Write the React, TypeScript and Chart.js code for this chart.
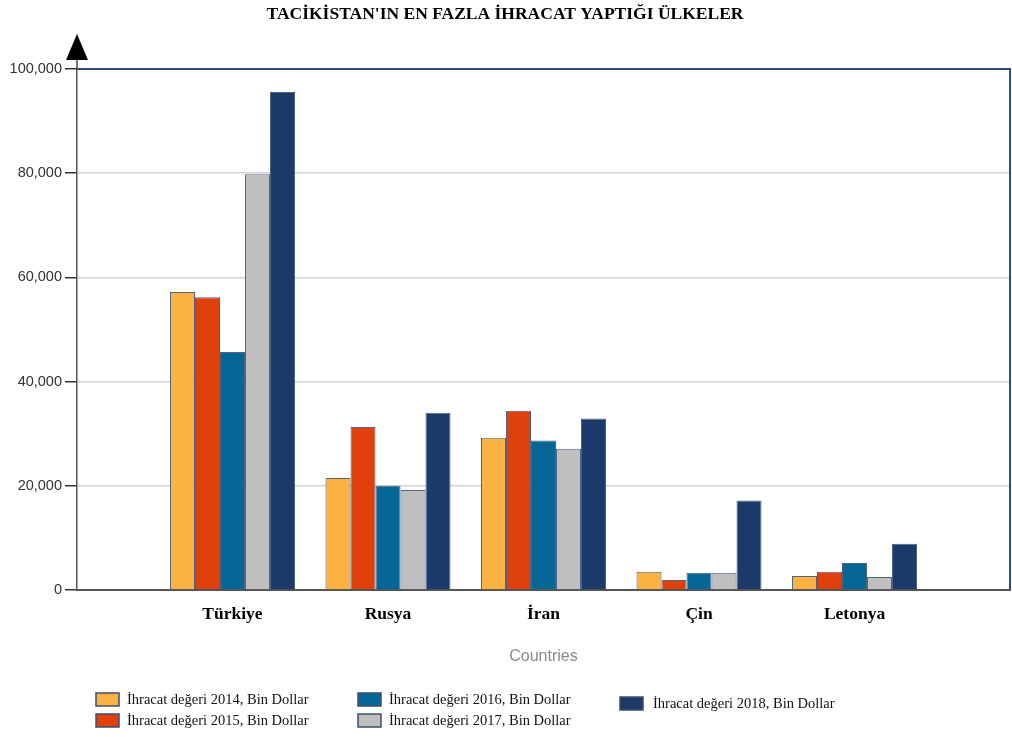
import React, { useEffect, useRef } from "react";
import { Chart, registerables } from "chart.js";

Chart.register(...registerables);

const chartTitle = "TACİKİSTAN'IN EN FAZLA İHRACAT YAPTIĞI ÜLKELER";
const countries = ["Türkiye", "Rusya", "İran", "Çin", "Letonya"];
const seriesLabels = [
  "İhracat değeri 2014, Bin Dollar",
  "İhracat değeri 2015, Bin Dollar",
  "İhracat değeri 2016, Bin Dollar",
  "İhracat değeri 2017, Bin Dollar",
  "İhracat değeri 2018, Bin Dollar",
];
const values2014 = [57200, 21500, 29200, 3500, 2700];
const values2015 = [56200, 31300, 34400, 1900, 3500];
const values2016 = [45700, 20000, 28700, 3300, 5200];
const values2017 = [79800, 19200, 27100, 3300, 2500];
const values2018 = [95600, 34000, 32900, 17200, 8900];
const seriesColors = ["#FBB242", "#E0400C", "#066695", "#BFBFBF", "#1B3A69"];
const yTicks = [0, 20000, 40000, 60000, 80000, 100000];

const SERIF = "'Liberation Serif', 'Times New Roman', serif";
const SANS = "'Liberation Sans', Arial, sans-serif";

const pad = (arr: number[]) => [null, ...arr, null];

const decorPlugin = {
  id: "decor",
  afterDraw(chart: any) {
    const ctx = chart.ctx;
    const { left, right, top, bottom } = chart.chartArea;
    ctx.save();
    // frame top & right
    ctx.strokeStyle = "#2E4C7C";
    ctx.lineWidth = 2;
    ctx.beginPath();
    ctx.moveTo(left, top);
    ctx.lineTo(right, top);
    ctx.lineTo(right, bottom);
    ctx.stroke();
    // axis arrow
    ctx.strokeStyle = "#444";
    ctx.lineWidth = 1.5;
    ctx.beginPath();
    ctx.moveTo(left, top);
    ctx.lineTo(left, top - 10);
    ctx.stroke();
    ctx.fillStyle = "#000";
    ctx.beginPath();
    ctx.moveTo(left - 11, top - 9);
    ctx.lineTo(left + 11, top - 9);
    ctx.lineTo(left, top - 35);
    ctx.closePath();
    ctx.fill();

    // legend
    const cols = [96, 358, 620];
    const rowsY = [693, 714];
    ctx.font = `14.5px ${SERIF}`;
    ctx.textBaseline = "middle";
    ctx.textAlign = "left";
    chart.data.datasets.forEach((ds: any, i: number) => {
      const col = Math.floor(i / 2);
      let y = rowsY[i % 2];
      if (i === 4) y = 697;
      const x = cols[col];
      ctx.fillStyle = ds.backgroundColor;
      ctx.fillRect(x, y, 23, 13);
      ctx.strokeStyle = "#3D4F6E";
      ctx.lineWidth = 1.5;
      ctx.strokeRect(x, y, 23, 13);
      ctx.fillStyle = "#111";
      ctx.fillText(ds.label, x + (i === 4 ? 33 : 31), y + 7);
    });
    ctx.restore();
  },
};

export default function App() {
  const canvasRef = useRef<HTMLCanvasElement | null>(null);

  useEffect(() => {
    if (!canvasRef.current) return;
    const allSeries = [values2014, values2015, values2016, values2017, values2018];
    const chart = new Chart(canvasRef.current, {
      type: "bar",
      data: {
        labels: ["", ...countries, ""],
        datasets: allSeries.map((vals, i) => ({
          label: seriesLabels[i],
          data: pad(vals),
          backgroundColor: seriesColors[i],
          borderColor: "rgba(60,82,118,0.9)",
          borderWidth: 1,
          categoryPercentage: 0.804,
          barPercentage: 1,
        })),
      },
      options: {
        animation: false,
        responsive: true,
        maintainAspectRatio: false,
        layout: { padding: { left: 0, right: 2, top: 0, bottom: 67 } },
        plugins: {
          legend: { display: false },
          tooltip: { enabled: false },
          title: {
            display: true,
            text: chartTitle,
            color: "#000",
            font: { family: SERIF, size: 17.5, weight: "bold" },
            padding: { top: 3.5, bottom: 44.5 },
          },
        },
        scales: {
          x: {
            offset: false,
            grid: { display: false, drawTicks: false },
            border: { display: true, color: "#555", width: 2 },
            ticks: {
              autoSkip: false,
              maxRotation: 0,
              padding: 14,
              color: "#000",
              font: { family: SERIF, size: 17.5, weight: "bold" },
            },
            title: {
              display: true,
              text: "Countries",
              color: "#8A8A8A",
              font: { family: SANS, size: 16 },
              padding: { top: 0, bottom: 4 },
            },
            afterFit(scale: any) {
              scale.height = 80;
              scale.paddingLeft = 0;
              scale.paddingRight = 0;
            },
          },
          y: {
            min: 0,
            max: 100000,
            afterBuildTicks(scale: any) {
              scale.ticks = yTicks.map((v) => ({ value: v }));
            },
            grid: {
              color: "#D2D2D2",
              lineWidth: 1.5,
              tickColor: "#333",
              tickLength: 12,
            },
            border: { display: true, color: "#555", width: 1.5 },
            ticks: {
              padding: 3,
              color: "#333",
              font: { family: SANS, size: 14.5 },
              callback: (v: any) => Number(v).toLocaleString("en-US"),
            },
            afterFit(scale: any) {
              scale.width = 77;
            },
          },
        },
      },
      plugins: [decorPlugin],
    } as any);
    return () => chart.destroy();
  }, []);

  return (
    <div style={{ position: "fixed", left: 0, top: 0, width: 1012, height: 737, background: "#fff" }}>
      <canvas ref={canvasRef} />
    </div>
  );
}
